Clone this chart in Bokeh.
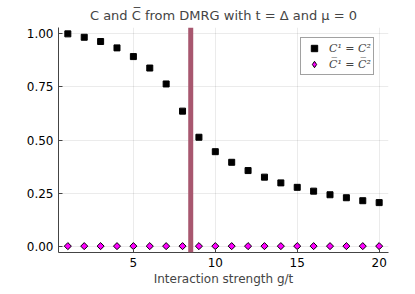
import math
from bokeh.plotting import figure
from bokeh.models import Span, Legend, LegendItem, Range1d, FixedTicker, PrintfTickFormatter
from bokeh.embed import file_html
from bokeh.resources import INLINE

g_values = list(range(1, 21))
C_values = [1.000, 0.984, 0.964, 0.934, 0.893, 0.839, 0.764, 0.636, 0.513, 0.445,
            0.395, 0.356, 0.325, 0.298, 0.277, 0.259, 0.242, 0.228, 0.214, 0.205]
Cbar_values = [0.0] * 20
transition_g = 8.5
x_ticks = [5, 10, 15, 20]
y_ticks = [0.0, 0.25, 0.5, 0.75, 1.0]

p = figure(width=415, height=294, output_backend="svg", toolbar_location=None,
           x_range=Range1d(0.43, 20.57), y_range=Range1d(-0.03, 1.03),
           min_border_left=58, min_border_right=27, min_border_top=19, min_border_bottom=42)
p.title.text = "C and C\u0305 from DMRG with t = \u0394 and \u03bc = 0"
p.title.align = "center"
p.title.text_font = "DejaVu Sans"
p.title.text_font_size = "13px"
p.title.text_font_style = "normal"
p.outline_line_color = None

span = Span(location=transition_g, dimension="height", line_width=5, line_color="#A8576F")
p.add_layout(span)

r1 = p.scatter(g_values, C_values, marker="square", size=6, fill_color="black", line_color="black")
r2 = p.scatter(g_values, Cbar_values, marker="square", size=5, angle=math.pi / 4,
               fill_color="#FF00FF", line_color="black", line_width=1)
# legend-only key (a single NaN point, never drawn) so the legend shows a diamond
r2_key = p.scatter([float("nan")], [float("nan")], marker="diamond", size=8,
                   fill_color="#FF00FF", line_color="black", line_width=1)

for ax in (p.xaxis[0], p.yaxis[0]):
    ax.major_tick_in = 4
    ax.major_tick_out = 0
    ax.minor_tick_line_color = None
    ax.axis_line_color = "#444444"
    ax.major_tick_line_color = "#444444"
    ax.major_label_text_font = "DejaVu Sans"
    ax.major_label_text_font_size = "12px"
    ax.major_label_text_color = "black"
p.xaxis.ticker = FixedTicker(ticks=x_ticks)
p.yaxis.ticker = FixedTicker(ticks=y_ticks)
p.yaxis.formatter = PrintfTickFormatter(format="%.2f")
p.xaxis.axis_label = "Interaction strength g/t"
p.xaxis.axis_label_text_font = "DejaVu Sans"
p.xaxis.axis_label_text_font_size = "12px"
p.xaxis.axis_label_text_font_style = "normal"
p.xaxis.axis_label_standoff = 2
p.xgrid.grid_line_color = "black"
p.xgrid.grid_line_alpha = 0.08
p.ygrid.grid_line_color = "black"
p.ygrid.grid_line_alpha = 0.08

legend = Legend(items=[LegendItem(label="C\u00b9 = C\u00b2", renderers=[r1]),
                       LegendItem(label="C\u0305\u00b9 = C\u0305\u00b2", renderers=[r2_key])],
                location=(242, 177))
legend.label_text_font = "DejaVu Serif"
legend.label_text_font_style = "italic"
legend.label_text_font_size = "11px"
legend.glyph_width = 22
legend.glyph_height = 16
legend.spacing = 0
legend.padding = 2
legend.margin = 0
legend.border_line_color = "#444444"
legend.label_standoff = 4
p.add_layout(legend)

open("out.html", "w").write(file_html(p, INLINE))
